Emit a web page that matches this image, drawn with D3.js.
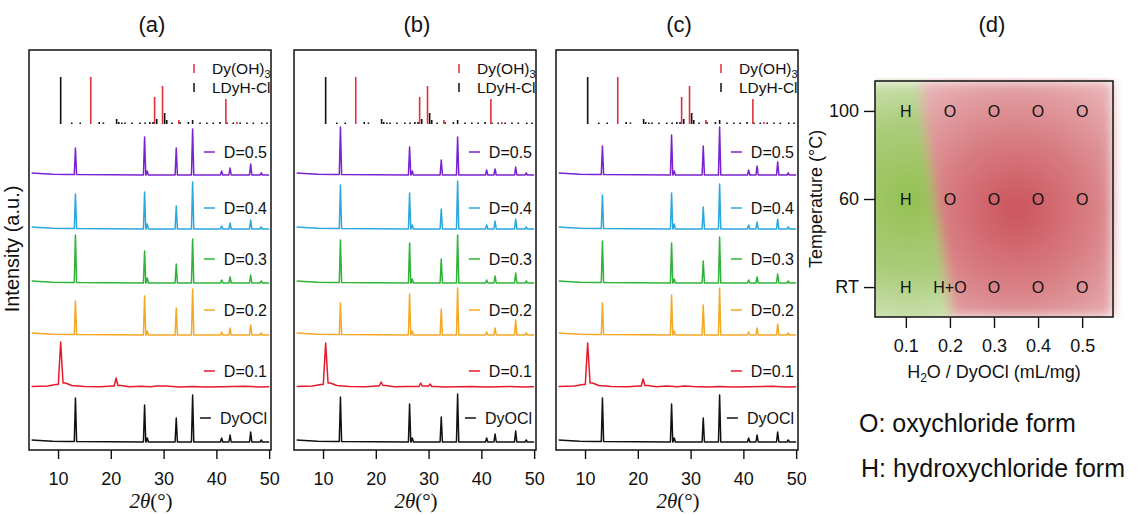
<!DOCTYPE html>
<html><head><meta charset="utf-8">
<script src="https://cdn.jsdelivr.net/npm/d3@7/dist/d3.min.js"></script>
<style>
body{margin:0;background:#fff}
svg{display:block}
text{font-family:Arial,"Liberation Sans",sans-serif;fill:#111}
</style>
</head><body>
<svg id="c" width="1142" height="515"></svg>
<script>
// ---------------- data ----------------
const panelTitles = ["(a)", "(b)", "(c)"];
const sampleLabels = ["DyOCl", "D=0.1", "D=0.2", "D=0.3", "D=0.4", "D=0.5"];
const sampleColors = ["#111111", "#e8192c", "#f4a824", "#2fb337", "#2ba7e0", "#7a22d2"];
const xTicks = [10, 20, 30, 40, 50];
const traceOffsets = [0, 54, 107, 159, 213, 267];
const stickOffset = 318;
const legendLift = [24, 17, 25, 24, 21, 23];

// reference sticks [2theta, height]
const dyOH3Sticks = [[16.2,47],[28.3,27],[29.8,38],[32.9,4],[41.8,25],[43.9,2]];
const ldyhSticks = [[10.5,47],[12.6,1.5],[14.2,1.5],[17.8,2],[18.6,1.5],[21.1,5],[21.5,2],[22.1,1.5],[22.7,1.5],
  [24.0,1.5],[25.5,1.5],[26.5,1.5],[27.4,2],[28.0,2],[28.7,5],[30.2,11],[30.6,4],[31.6,1.5],[33.1,2],[34.7,2],
  [35.5,4],[36.9,1.5],[38.2,1.5],[39.4,1.5],[40.7,2],[42.0,1.5],[43.2,1.5],[44.5,1.5],[45.8,1.5],[47.0,1.5],
  [48.6,1.5],[49.6,1.5]];

// baselines [2theta, intensity]
const baseSharp = [[5,2],[6.5,1.5],[9,0.8],[12,0.4],[20,0.2],[30,0],[50,0]];
const baseA01 = [[5,1.5],[8,2],[9.6,3.5],[11.4,5],[12.6,2.5],[15,1.5],[18,1.2],[20.2,2],[21.9,2.5],[23.5,1.2],[25.8,1.8],[27.5,1.2],[28.8,2],[30.4,2],[33,1],[35.5,1.6],[38,1],[41,1.2],[45.5,1.8],[48,1],[50,1.2]];
const baseB01 = [[5,1.5],[8,2],[9.6,3.5],[11.4,5],[12.6,2.5],[15,1.5],[18,1.2],[20.2,2],[21.9,2.5],[23.5,1.2],[25.8,1.5],[27.5,1.5],[29.4,2],[31.5,1.5],[33,1],[35.5,1.2],[38,1.5],[41,1],[45.5,1.5],[48,1],[50,1.2]];
const baseC01 = [[5,1.5],[8,2],[9.6,3.5],[11.4,5],[12.6,2.5],[15,1.5],[18,1.2],[20.2,2],[21.9,2.5],[23.5,1.2],[25.5,2],[27.5,1.2],[28.8,2],[30.4,1.5],[33,1],[35.5,1.6],[38,1],[41,1.2],[45.5,1.8],[48,1],[50,1.2]];

// peaks [2theta, height, halfwidth?]
const aDyOCl = [[13.3,44],[26.4,37],[26.9,4],[32.4,24],[35.5,47],[41.0,4],[42.6,7],[46.5,10],[48.5,2]];
const aD01 = [[10.5,46,0.45],[21.0,10,0.35]];
const aD02 = [[13.3,34],[26.4,39],[26.9,4],[32.4,27],[35.5,46],[41.0,3],[42.6,7],[46.5,10],[48.5,2]];
const aD03 = [[13.3,48],[26.4,32],[26.9,5],[32.4,19],[35.5,44],[41.0,3],[42.6,6],[46.5,8],[48.5,2]];
const aD04 = [[13.3,35],[26.4,37],[26.9,5],[32.4,23],[35.5,47],[41.0,3],[42.6,6],[46.5,9],[48.5,2]];
const aD05 = [[13.3,27],[26.4,38],[26.9,4],[32.4,27],[35.5,46],[41.0,4],[42.6,7],[46.5,11],[48.5,2]];

const bDyOCl = [[13.3,45],[26.4,38],[26.9,4],[32.4,25],[35.5,48],[41.0,4],[42.6,8],[46.5,11],[48.5,2]];
const bD01 = [[10.5,45,0.45],[21.0,6,0.35],[28.5,5,0.3],[30.3,4,0.3]];
const bD02 = [[13.3,32],[26.4,41],[26.9,4],[32.4,26],[35.5,47],[41.0,3],[42.6,7],[46.5,15],[48.5,2]];
const bD03 = [[13.3,43],[26.4,40],[26.9,4],[32.4,24],[35.5,48],[41.0,3],[42.6,7],[46.5,10],[48.5,2]];
const bD04 = [[13.3,44],[26.4,36],[26.9,4],[32.4,20],[35.5,48],[41.0,4],[42.6,8],[46.5,10],[48.5,2]];
const bD05 = [[13.3,48],[26.4,28],[26.9,4],[32.4,15],[35.5,38],[41.0,5],[42.6,6],[46.5,8],[48.5,2]];

const cDyOCl = [[13.3,44],[26.4,38],[26.9,4],[32.4,24],[35.5,47],[41.0,4],[42.6,7],[46.5,10],[48.5,2]];
const cD01 = [[10.5,45,0.45],[21.0,9,0.35]];
const cD02 = [[13.3,32],[26.4,40],[26.9,4],[32.4,30],[35.5,47],[41.0,3],[42.6,7],[46.5,11],[48.5,2]];
const cD03 = [[13.3,42],[26.4,40],[26.9,4],[32.4,22],[35.5,46],[41.0,3],[42.6,6],[46.5,9],[48.5,2]];
const cD04 = [[13.3,34],[26.4,36],[26.9,5],[32.4,22],[35.5,45],[41.0,4],[42.6,7],[46.5,10],[48.5,2]];
const cD05 = [[13.3,29],[26.4,40],[26.9,4],[32.4,29],[35.5,48],[41.0,5],[42.6,9],[46.5,13],[48.5,2]];

// panel (d)
const tempRows = ["RT", "60", "100"];
const ratioCols = [0.1, 0.2, 0.3, 0.4, 0.5];
const phaseGrid = [
  ["H", "H+O", "O", "O", "O"],   // RT
  ["H", "O", "O", "O", "O"],     // 60
  ["H", "O", "O", "O", "O"]      // 100
];
// ratio at the H/O border: [bottom edge, RT, 60, 100, top edge]
const greenEdge = [0.205, 0.195, 0.165, 0.138, 0.132];
const redCenter = [0.35, "60"];
const phaseNotes = ["O: oxychloride form", "H: hydroxychloride form"];

// ---------------- drawing ----------------
const svg = d3.select("#c");
const panelLeft = [29, 294, 556];
const panelW = 242, pTop = 50, pBottom = 450;
const panelTraces = [
  [[aDyOCl, baseSharp],[aD01, baseA01],[aD02, baseSharp],[aD03, baseSharp],[aD04, baseSharp],[aD05, baseSharp]],
  [[bDyOCl, baseSharp],[bD01, baseB01],[bD02, baseSharp],[bD03, baseSharp],[bD04, baseSharp],[bD05, baseSharp]],
  [[cDyOCl, baseSharp],[cD01, baseC01],[cD02, baseSharp],[cD03, baseSharp],[cD04, baseSharp],[cD05, baseSharp]]
];

function buildPoints(peaks, base) {
  const nearestBase = x => base.reduce((a, b) => Math.abs(b[0]-x) < Math.abs(a[0]-x) ? b : a)[1];
  const pts = base.filter(b => !peaks.some(p => Math.abs(b[0]-p[0]) < (p[2] || 0.22))).map(b => [b[0], b[1]]);
  peaks.forEach(p => {
    const w = p[2] || 0.22;
    pts.push([p[0]-w, nearestBase(p[0]-w)], [p[0], p[1]], [p[0]+w, nearestBase(p[0]+w)]);
  });
  return pts.sort((a, b) => a[0]-b[0]);
}

panelTitles.forEach((title, pi) => {
  const left = panelLeft[pi], right = left + panelW;
  const x = d3.scaleLinear().domain([4.5, 50.35]).range([left, right]);
  const y = d3.scaleLinear().domain([-8, 392]).range([pBottom, pTop]);
  const g = svg.append("g");

  // traces
  const line = d3.line().x(d => x(d[0]));
  panelTraces[pi].forEach(([peaks, base], i) => {
    const pts = buildPoints(peaks, base);
    g.append("path")
      .attr("d", line.y(d => y(traceOffsets[i] + d[1]))(pts))
      .attr("fill", "none").attr("stroke", sampleColors[i])
      .attr("stroke-width", 1.5).attr("stroke-linejoin", "round");
    const ly = y(traceOffsets[i] + legendLift[i]);
    const t = g.append("text").attr("x", right - 4).attr("y", ly).attr("dy", "0.35em")
      .attr("text-anchor", "end").style("font-size", "16px").text(sampleLabels[i]);
    const tw = t.node().getComputedTextLength();
    g.append("line").attr("x1", right - 4 - tw - 20).attr("x2", right - 4 - tw - 9)
      .attr("y1", ly).attr("y2", ly).attr("stroke", sampleColors[i]).attr("stroke-width", 1.5);
  });

  // reference sticks
  [[ldyhSticks, "#111"], [dyOH3Sticks, "#e0303c"]].forEach(([st, col]) => {
    g.selectAll(null).data(st).enter().append("line")
      .attr("x1", d => x(d[0])).attr("x2", d => x(d[0]))
      .attr("y1", y(stickOffset)).attr("y2", d => y(stickOffset + d[1]))
      .attr("stroke", col).attr("stroke-width", 1.6);
  });
  // stick legend
  [["Dy(OH)", "3", "#e0303c", 69], ["LDyH-Cl", null, "#111", 88]].forEach(([lab, sub, col, yy]) => {
    g.append("line").attr("x1", right - 77).attr("x2", right - 77).attr("y1", yy - 5).attr("y2", yy + 4)
      .attr("stroke", col).attr("stroke-width", 1.5);
    const t = g.append("text").attr("x", right - 59).attr("y", yy).attr("dy", "0.35em")
      .style("font-size", "15.5px").text(lab);
    if (sub) t.append("tspan").attr("dy", "4").style("font-size", "11px").text(sub);
  });

  // frame
  g.append("rect").attr("x", left).attr("y", pTop).attr("width", panelW).attr("height", pBottom - pTop)
    .attr("fill", "none").attr("stroke", "#111").attr("stroke-width", 1.5);

  // x axis
  const ax = g.append("g").attr("transform", `translate(0,${pBottom})`)
    .call(d3.axisBottom(x).tickValues(xTicks).tickSize(9).tickPadding(13).tickFormat(d3.format("d")));
  ax.select(".domain").remove();
  ax.selectAll("line").attr("stroke", "#111").attr("stroke-width", 1.4);
  ax.selectAll("text").style("font-size", "18px").style("font-family", "Arial, 'Liberation Sans', sans-serif").attr("fill", "#111");

  // x title
  const xt = g.append("text").attr("x", (left + right) / 2 + 1).attr("y", 508).attr("text-anchor", "middle")
    .style("font-family", "'Liberation Serif', 'Times New Roman', serif").style("font-size", "21px");
  xt.append("tspan").style("font-style", "italic").text("2θ");
  xt.append("tspan").text("(°)");

  // panel title
  g.append("text").attr("x", (left + right) / 2 + 2).attr("y", 32).attr("text-anchor", "middle")
    .style("font-size", "22px").text(title);
});

// y label
svg.append("text").attr("transform", "translate(19,249) rotate(-90)").attr("text-anchor", "middle")
  .style("font-size", "20px").text("Intensity (a.u.)");

// ---------------- panel (d) ----------------
const dL = 875, dR = 1113, dT = 81, dB = 317;
const xD = d3.scaleLinear().domain([0.03, 0.57]).range([dL, dR]);
const yT = d3.scalePoint().domain(tempRows).range([dB, dT]).padding(0.34);

const defs = svg.append("defs");
const f = defs.append("filter").attr("id", "blur").attr("x", "-10%").attr("y", "-10%").attr("width", "120%").attr("height", "120%");
f.append("feGaussianBlur").attr("stdDeviation", 6);
const rg = defs.append("radialGradient").attr("id", "redG").attr("gradientUnits", "userSpaceOnUse")
  .attr("cx", xD(redCenter[0])).attr("cy", yT(redCenter[1]) + 11).attr("r", 165);
[[0, "#cb535c"], [0.45, "#d87e83"], [1, "#eabcbe"]].forEach(([o, c]) => rg.append("stop").attr("offset", o).attr("stop-color", c));
const gg = defs.append("radialGradient").attr("id", "greenG").attr("gradientUnits", "userSpaceOnUse")
  .attr("cx", xD(0.11)).attr("cy", yT("60")).attr("r", 140);
[[0, "#94c052"], [0.55, "#abcd7c"], [1, "#d8e9c3"]].forEach(([o, c]) => gg.append("stop").attr("offset", o).attr("stop-color", c));
defs.append("clipPath").attr("id", "dclip").append("rect").attr("x", dL).attr("y", dT - 3).attr("width", dR - dL + 9).attr("height", dB - dT + 3);

const hm = svg.append("g").attr("clip-path", "url(#dclip)").append("g").attr("filter", "url(#blur)");
hm.append("rect").attr("x", dL).attr("y", dT).attr("width", dR - dL).attr("height", dB - dT).attr("fill", "url(#redG)");
const edgeY = [dB + 10, yT("RT"), yT("60"), yT("100"), dT];
const poly = [[dL - 10, dB + 10]].concat(greenEdge.map((d, i) => [xD(d), edgeY[i]])).concat([[dL - 10, dT]]);
hm.append("path").attr("d", d3.line()(poly) + "Z").attr("fill", "url(#greenG)");

svg.append("rect").attr("x", dL).attr("y", dT).attr("width", dR - dL).attr("height", dB - dT)
  .attr("fill", "none").attr("stroke", "#111").attr("stroke-width", 1.5);

// cell labels
phaseGrid.forEach((row, ri) => row.forEach((lab, ci) => {
  svg.append("text").attr("x", xD(ratioCols[ci])).attr("y", yT(tempRows[ri])).attr("dy", "0.36em")
    .attr("text-anchor", "middle").style("font-size", "16px").attr("fill", "#222").text(lab);
}));

const axY = svg.append("g").attr("transform", `translate(${dL},0)`).call(d3.axisLeft(yT).tickSize(11).tickPadding(5));
const axX = svg.append("g").attr("transform", `translate(0,${dB})`).call(d3.axisBottom(xD).tickValues(ratioCols).tickSize(11).tickPadding(11).tickFormat(d3.format(".1f")));
[axY, axX].forEach(a => {
  a.select(".domain").remove();
  a.selectAll("line").attr("stroke", "#111").attr("stroke-width", 1.4);
  a.selectAll("text").style("font-size", "18px").style("font-family", "Arial, 'Liberation Sans', sans-serif").attr("fill", "#111");
});

const xl = svg.append("text").attr("x", xD(0.3)).attr("y", 378).attr("text-anchor", "middle").style("font-size", "18px");
xl.append("tspan").text("H");
xl.append("tspan").attr("dy", 4).style("font-size", "12px").text("2");
xl.append("tspan").attr("dy", -4).text("O / DyOCl (mL/mg)");

svg.append("text").attr("transform", `translate(822,${yT("60")}) rotate(-90)`).attr("text-anchor", "middle")
  .style("font-size", "18px").text("Temperature (°C)");

svg.append("text").attr("x", xD(0.3) - 2).attr("y", 32).attr("text-anchor", "middle").style("font-size", "22px").text("(d)");

phaseNotes.forEach((t, i) => {
  svg.append("text").attr("x", 859 + 2 * i).attr("y", 432 + 45 * i).style("font-size", "25px").text(t);
});
</script>
</body></html>
